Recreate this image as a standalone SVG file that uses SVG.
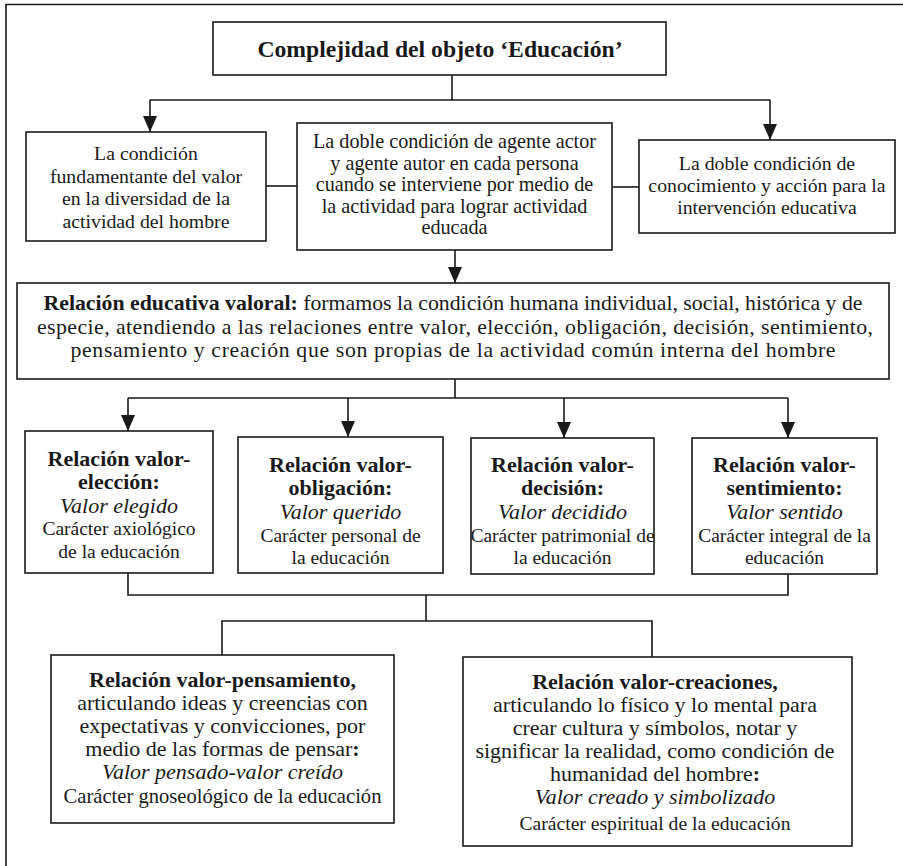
<svg xmlns="http://www.w3.org/2000/svg" width="903" height="866" viewBox="0 0 903 866">
  <defs>
    <marker id="arrow" markerUnits="userSpaceOnUse" markerWidth="16" markerHeight="14" viewBox="0 0 16 14" refX="16" refY="7" orient="auto">
      <path d="M0,0 L16,7 L0,14 Z" fill="#1a1a1a"/>
    </marker>
    <style>
      .box { fill: #ffffff; stroke: #1a1a1a; stroke-width: 1.6; }
      .wire { fill: none; stroke: #1a1a1a; stroke-width: 1.6; }
      .down { marker-end: url(#arrow); }
      text { font-family: "Liberation Serif", "Times New Roman", serif; fill: #1a1a1a; text-anchor: middle; }
      .title { font-size: 23.7px; font-weight: bold; }
      .top { font-size: 19.8px; }
      .mid { font-size: 20.2px; }
      .rel { font-size: 21.8px; }
      .hd { font-size: 22px; font-weight: bold; }
      .it { font-size: 22px; font-style: italic; }
      .rg { font-size: 19.5px; }
      .lg { font-size: 22px; }
      .sm { font-size: 20.6px; }
      .xs { font-size: 19.6px; }
    </style>
  </defs>

  <!-- page frame -->
  <path class="wire" d="M6,866 V4.5 H903"/>

  <!-- connectors -->
  <g id="connectors">
    <path class="wire" d="M452,75 V100"/>
    <path class="wire" d="M150,100 H770"/>
    <path class="wire down" d="M150,100 V132"/>
    <path class="wire down" d="M770,100 V140"/>
    <path class="wire" d="M266,186 H297"/>
    <path class="wire" d="M612,187 H639"/>
    <path class="wire down" d="M455,250 V283"/>
    <path class="wire" d="M455,379 V398"/>
    <path class="wire" d="M128,398 H788"/>
    <path class="wire down" d="M128,398 V431"/>
    <path class="wire down" d="M348,398 V437"/>
    <path class="wire down" d="M564,398 V438"/>
    <path class="wire down" d="M788,398 V438"/>
    <path class="wire" d="M128,573 V595 H788 V574"/>
    <path class="wire" d="M426,595 V621"/>
    <path class="wire" d="M222,655 V621 H652 V657"/>
  </g>

  <!-- title -->
  <g id="node-title">
    <rect class="box" x="213" y="22" width="453" height="53"/>
    <text class="title" x="440" y="57">Complejidad del objeto ‘Educación’</text>
  </g>

  <!-- first level -->
  <g id="node-valor">
    <rect class="box" x="26" y="132" width="240" height="109"/>
    <text class="top" x="146" y="160">La condición</text>
    <text class="top" x="146" y="182.5">fundamentante del valor</text>
    <text class="top" x="146" y="205">en la diversidad de la</text>
    <text class="top" x="146" y="227.5">actividad del hombre</text>
  </g>

  <g id="node-agente">
    <rect class="box" x="297" y="123" width="315" height="127"/>
    <text class="mid" x="454.5" y="148">La doble condición de agente actor</text>
    <text class="mid" x="454.5" y="169.5">y agente autor en cada persona</text>
    <text class="mid" x="454.5" y="191">cuando se interviene por medio de</text>
    <text class="mid" x="454.5" y="212.5">la actividad para lograr actividad</text>
    <text class="mid" x="454.5" y="234">educada</text>
  </g>

  <g id="node-conocimiento">
    <rect class="box" x="639" y="140" width="256" height="93"/>
    <text class="top" x="767" y="170">La doble condición de</text>
    <text class="top" x="767" y="192">conocimiento y acción para la</text>
    <text class="top" x="767" y="214">intervención educativa</text>
  </g>

  <!-- central relation -->
  <g id="node-relacion">
    <rect class="box" x="17" y="283" width="872" height="96"/>
    <text class="rel" x="453" y="310"><tspan font-weight="bold">Relación educativa valoral:</tspan> formamos la condición humana individual, social, histórica y de</text>
    <text class="rel" x="455" y="334" textLength="836" lengthAdjust="spacing">especie, atendiendo a las relaciones entre valor, elección, obligación, decisión, sentimiento,</text>
    <text class="rel" x="453" y="357" textLength="765" lengthAdjust="spacing">pensamiento y creación que son propias de la actividad común interna del hombre</text>
  </g>

  <!-- four relations -->
  <g id="node-eleccion">
    <rect class="box" x="25" y="431" width="188" height="142"/>
    <text class="hd" x="119" y="466">Relación valor-</text>
    <text class="hd" x="119" y="489">elección:</text>
    <text class="it" x="119" y="512.5">Valor elegido</text>
    <text class="rg" x="119" y="535">Carácter axiológico</text>
    <text class="rg" x="119" y="557.5">de la educación</text>
  </g>

  <g id="node-obligacion">
    <rect class="box" x="238" y="437" width="205" height="136"/>
    <text class="hd" x="340.5" y="472">Relación valor-</text>
    <text class="hd" x="340.5" y="495">obligación:</text>
    <text class="it" x="340.5" y="519">Valor querido</text>
    <text class="rg" x="340.5" y="542">Carácter personal de</text>
    <text class="rg" x="340.5" y="564">la educación</text>
  </g>

  <g id="node-decision">
    <rect class="box" x="471" y="438" width="183" height="136"/>
    <text class="hd" x="562.5" y="472">Relación valor-</text>
    <text class="hd" x="562.5" y="495">decisión:</text>
    <text class="it" x="562.5" y="519">Valor decidido</text>
    <text class="rg" x="562.5" y="541.5">Carácter patrimonial de</text>
    <text class="rg" x="562.5" y="564">la educación</text>
  </g>

  <g id="node-sentimiento">
    <rect class="box" x="692" y="438" width="185" height="136"/>
    <text class="hd" x="784.5" y="472">Relación valor-</text>
    <text class="hd" x="784.5" y="495">sentimiento:</text>
    <text class="it" x="784.5" y="519">Valor sentido</text>
    <text class="rg" x="784.5" y="541.5">Carácter integral de la</text>
    <text class="rg" x="784.5" y="564">educación</text>
  </g>

  <!-- bottom relations -->
  <g id="node-pensamiento">
    <rect class="box" x="51" y="655" width="343" height="168"/>
    <text class="hd" x="222.5" y="687">Relación valor-pensamiento,</text>
    <text class="lg" x="222.5" y="710">articulando ideas y creencias con</text>
    <text class="lg" x="222.5" y="733">expectativas y convicciones, por</text>
    <text class="lg" x="222.5" y="756">medio de las formas de pensar<tspan font-weight="bold">:</tspan></text>
    <text class="it" x="222.5" y="779">Valor pensado-valor creído</text>
    <text class="sm" x="222.5" y="803">Carácter gnoseológico de la educación</text>
  </g>

  <g id="node-creaciones">
    <rect class="box" x="463" y="657" width="389" height="189"/>
    <text class="hd" x="655" y="689">Relación valor-creaciones,</text>
    <text class="lg" x="655" y="712">articulando lo físico y lo mental para</text>
    <text class="lg" x="655" y="735">crear cultura y símbolos, notar y</text>
    <text class="lg" x="655" y="758">significar la realidad, como condición de</text>
    <text class="lg" x="655" y="781">humanidad del hombre<tspan font-weight="bold">:</tspan></text>
    <text class="it" x="655" y="804">Valor creado y simbolizado</text>
    <text class="xs" x="655" y="830">Carácter espiritual de la educación</text>
  </g>
</svg>
